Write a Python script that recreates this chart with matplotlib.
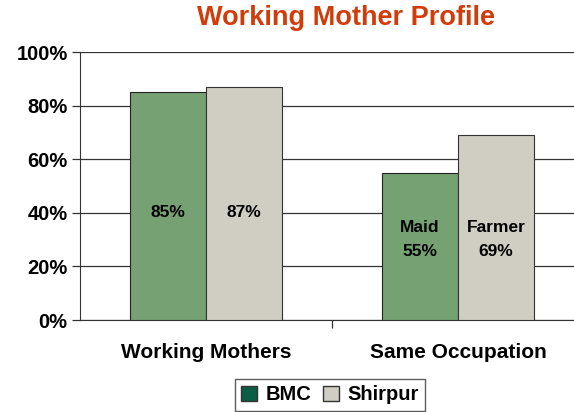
import matplotlib.pyplot as plt
import numpy as np
from matplotlib.patches import Patch

categories = ["Working Mothers", "Same Occupation"]
series = ["BMC", "Shirpur"]
bmc = [85, 55]
shirpur = [87, 69]
bmc_labels = ["85%", "Maid\n55%"]
shirpur_labels = ["87%", "Farmer\n69%"]
yticks = [0, 20, 40, 60, 80, 100]

bar_green = "#76a273"
legend_green = "#0b5e46"
gray = "#d0cec2"

plt.rcParams['font.family'] = ['Liberation Sans', 'DejaVu Sans']
plt.rcParams['font.weight'] = 'bold'

fig = plt.figure(figsize=(5.74, 4.12), dpi=100)
# axes runs a bit past the right edge, like the original
ax = fig.add_axes([80/574, 1 - 320/412, 504/574, 268/412])

x = np.arange(len(categories))
w = 0.302
ax.bar(x - w/2, bmc, w, color=bar_green, edgecolor="#222222", linewidth=0.8, zorder=3)
ax.bar(x + w/2, shirpur, w, color=gray, edgecolor="#333333", linewidth=0.8, zorder=3)

# label positions inside bars
label_y = [40, 30]
for i in range(len(categories)):
    ax.text(x[i] - w/2, label_y[i], bmc_labels[i], ha="center", va="center",
            fontsize=12.5, fontweight="bold", linespacing=1.75, zorder=4)
    ax.text(x[i] + w/2, label_y[i], shirpur_labels[i], ha="center", va="center",
            fontsize=12.5, fontweight="bold", linespacing=1.75, zorder=4)

ax.set_xlim(-0.5, 1.5)
ax.set_ylim(0, 100)
ax.set_yticks(yticks)
ax.set_yticklabels([f"{v}%" for v in yticks], fontsize=14.5, fontweight="bold")
ax.yaxis.grid(True, color="#333333", linewidth=0.9, zorder=0)
ax.tick_params(axis="y", length=6, width=0.9, color="#333333", pad=3)

ax.set_xticks([0.5], minor=False)
ax.set_xticklabels([""])
ax.tick_params(axis="x", length=6, width=0.9, color="#333333")
for i, c in enumerate(categories):
    ax.text(x[i], -8.5, c, ha="center", va="top", fontsize=15, fontweight="bold")

for s in ["top", "right"]:
    ax.spines[s].set_visible(False)
ax.spines["left"].set_color("#333333")
ax.spines["bottom"].set_color("#333333")

fig.text(346/574, 1 - 18/412, "Working Mother Profile", ha="center", va="center",
         fontsize=19.5, fontweight="bold", color="#d03c0a")

handles = [Patch(facecolor=legend_green, edgecolor="#333333"),
           Patch(facecolor=gray, edgecolor="#333333")]
leg = fig.legend(handles, series, loc="center", bbox_to_anchor=(330/574, 1 - 395/412),
                 ncol=2, frameon=True, fancybox=False,
                 handlelength=0.8, handleheight=0.8, handletextpad=0.4,
                 columnspacing=0.6, borderpad=0.3, prop={"weight": "bold", "size": 14.5})
leg.get_frame().set_edgecolor("#333333")
leg.get_frame().set_linewidth(1.0)

fig.savefig("out.png", dpi=100)
